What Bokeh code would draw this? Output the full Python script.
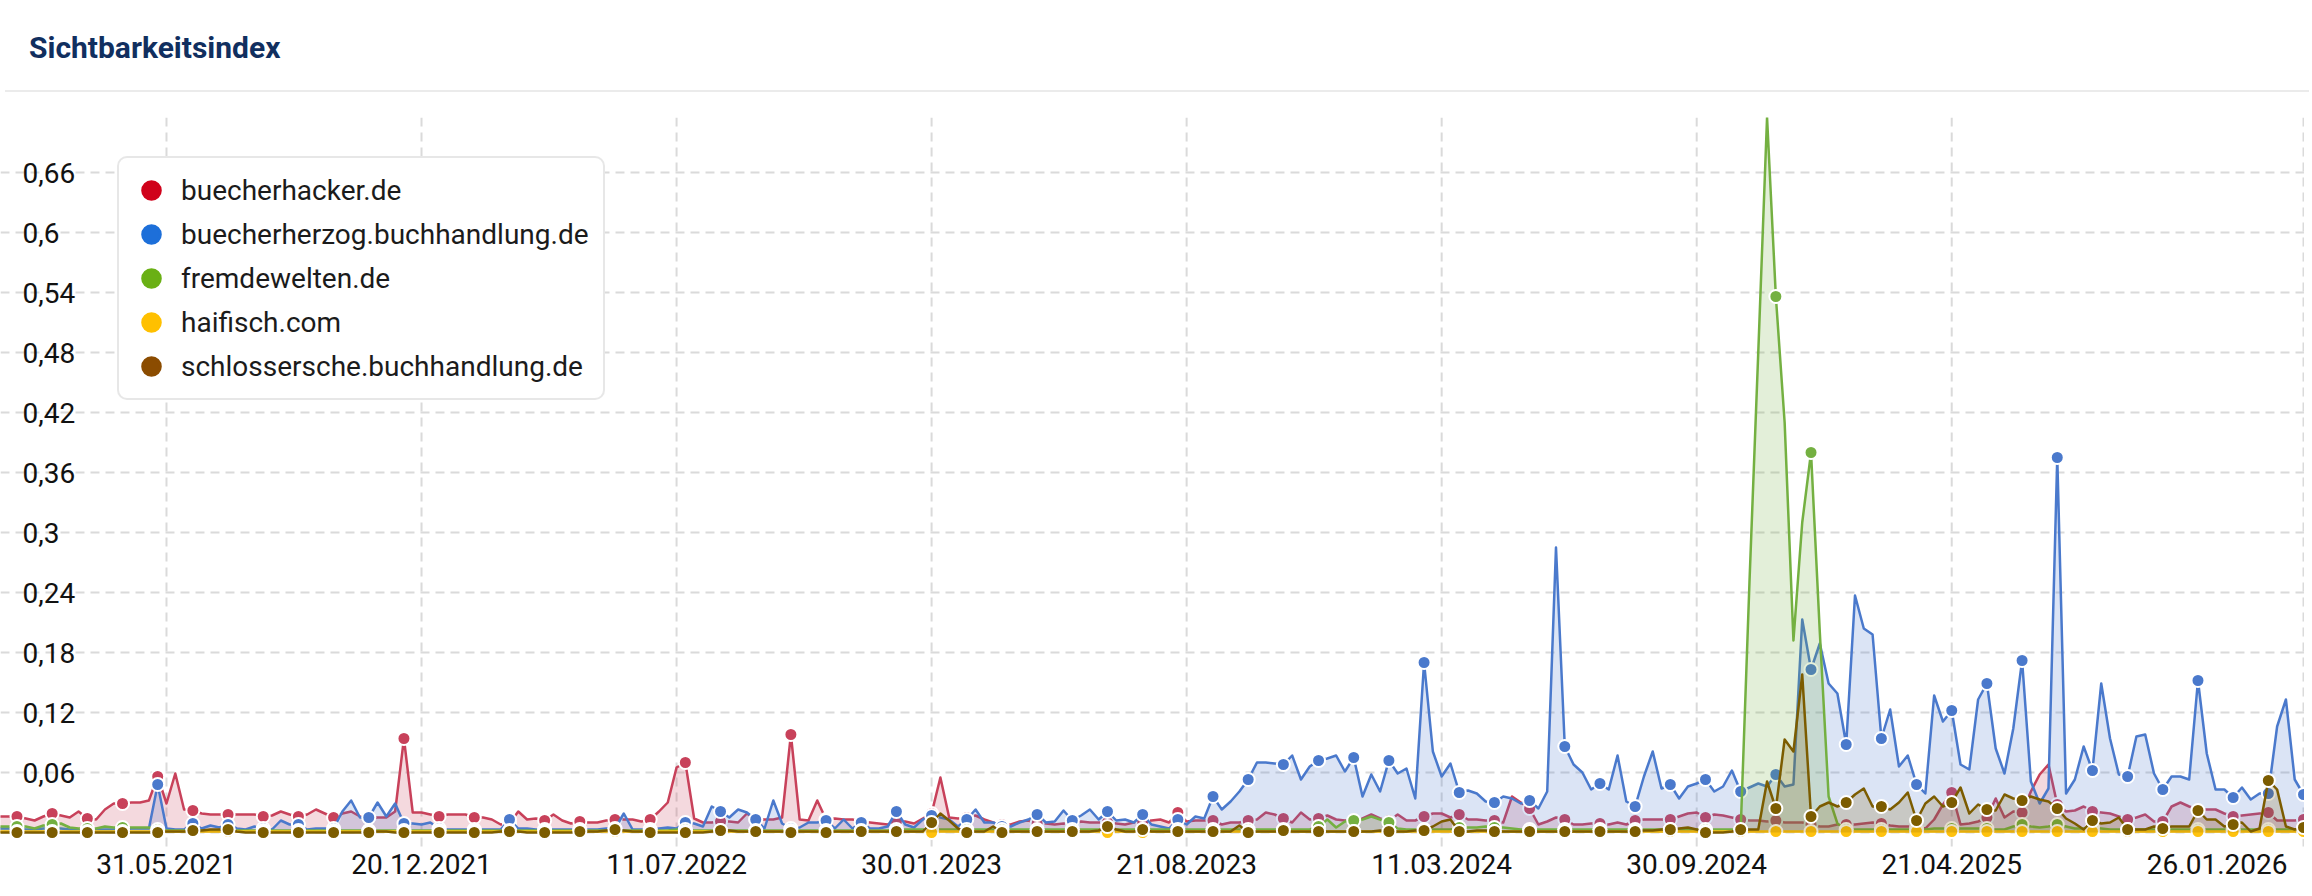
import numpy as np
import pandas as pd
from datetime import datetime
from bokeh.plotting import figure
from bokeh.models import (ColumnDataSource, Range1d, Grid, FixedTicker, LabelSet,
                          Legend, LegendItem, Div)
from bokeh.layouts import column
from bokeh.core.properties import value
from bokeh.embed import file_html
from bokeh.resources import INLINE

title_text = "Sichtbarkeitsindex"
series_names = ["buecherhacker.de", "buecherherzog.buchhandlung.de", "fremdewelten.de",
                "haifisch.com", "schlossersche.buchhandlung.de"]
first_week = "2021-01-18"   # weekly values (Mondays)

buecherhacker = [
    0.016, 0.016, 0.016, 0.014, 0.012, 0.016, 0.019, 0.017, 0.015, 0.021,
    0.014, 0.013, 0.023, 0.029, 0.029, 0.030, 0.030, 0.032, 0.056, 0.029,
    0.059, 0.023, 0.022, 0.019, 0.018, 0.018, 0.018, 0.018, 0.018, 0.018,
    0.016, 0.017, 0.021, 0.018, 0.016, 0.018, 0.023, 0.019, 0.015, 0.019,
    0.021, 0.016, 0.015, 0.015, 0.015, 0.021, 0.094, 0.020, 0.020, 0.018,
    0.016, 0.018, 0.018, 0.018, 0.015, 0.015, 0.013, 0.008, 0.009, 0.021,
    0.013, 0.014, 0.012, 0.018, 0.012, 0.009, 0.011, 0.010, 0.010, 0.012,
    0.013, 0.013, 0.013, 0.011, 0.013, 0.021, 0.030, 0.065, 0.070, 0.014,
    0.010, 0.010, 0.011, 0.011, 0.010, 0.019, 0.013, 0.013, 0.013, 0.015,
    0.098, 0.013, 0.012, 0.032, 0.013, 0.014, 0.013, 0.013, 0.011, 0.010,
    0.009, 0.008, 0.011, 0.011, 0.009, 0.014, 0.019, 0.055, 0.015, 0.014,
    0.015, 0.017, 0.013, 0.010, 0.008, 0.008, 0.011, 0.012, 0.009, 0.009,
    0.008, 0.009, 0.008, 0.011, 0.010, 0.010, 0.010, 0.009, 0.008, 0.010,
    0.011, 0.012, 0.013, 0.010, 0.020, 0.011, 0.012, 0.012, 0.012, 0.008,
    0.010, 0.010, 0.012, 0.013, 0.020, 0.018, 0.014, 0.010, 0.020, 0.013,
    0.014, 0.017, 0.013, 0.012, 0.013, 0.014, 0.018, 0.014, 0.012, 0.018,
    0.012, 0.012, 0.016, 0.019, 0.019, 0.015, 0.018, 0.013, 0.013, 0.012,
    0.012, 0.010, 0.036, 0.030, 0.024, 0.008, 0.011, 0.015, 0.013, 0.008,
    0.008, 0.009, 0.009, 0.008, 0.010, 0.008, 0.012, 0.013, 0.013, 0.013,
    0.013, 0.016, 0.019, 0.020, 0.015, 0.018, 0.017, 0.015, 0.013, 0.012,
    0.012, 0.011, 0.012, 0.010, 0.010, 0.010, 0.008, 0.006, 0.006, 0.008,
    0.008, 0.008, 0.009, 0.010, 0.009, 0.007, 0.006, 0.006, 0.006, 0.004,
    0.013, 0.028, 0.040, 0.008, 0.009, 0.011, 0.015, 0.034, 0.015, 0.021,
    0.020, 0.041, 0.058, 0.068, 0.028, 0.021, 0.022, 0.026, 0.021, 0.020,
    0.019, 0.016, 0.013, 0.015, 0.018, 0.011, 0.011, 0.026, 0.030, 0.026,
    0.023, 0.023, 0.023, 0.019, 0.016, 0.017, 0.018, 0.019, 0.020, 0.012,
    0.012, 0.012, 0.013, 0.012,
]

buecherherzog = [
    0.004, 0.004, 0.004, 0.003, 0.003, 0.004, 0.004, 0.004, 0.003, 0.003,
    0.003, 0.003, 0.003, 0.003, 0.003, 0.004, 0.004, 0.004, 0.048, 0.004,
    0.003, 0.003, 0.009, 0.004, 0.007, 0.005, 0.008, 0.004, 0.003, 0.006,
    0.004, 0.003, 0.012, 0.008, 0.008, 0.003, 0.004, 0.004, 0.004, 0.021,
    0.032, 0.015, 0.015, 0.030, 0.016, 0.029, 0.009, 0.009, 0.008, 0.010,
    0.004, 0.003, 0.003, 0.003, 0.003, 0.003, 0.003, 0.003, 0.013, 0.004,
    0.004, 0.003, 0.003, 0.003, 0.003, 0.003, 0.003, 0.003, 0.003, 0.004,
    0.004, 0.019, 0.003, 0.003, 0.003, 0.004, 0.005, 0.004, 0.010, 0.009,
    0.006, 0.026, 0.021, 0.015, 0.023, 0.020, 0.013, 0.004, 0.032, 0.009,
    0.004, 0.005, 0.010, 0.010, 0.012, 0.004, 0.013, 0.004, 0.010, 0.004,
    0.004, 0.006, 0.021, 0.008, 0.005, 0.013, 0.017, 0.015, 0.013, 0.006,
    0.013, 0.023, 0.010, 0.010, 0.006, 0.006, 0.010, 0.013, 0.018, 0.010,
    0.011, 0.022, 0.012, 0.017, 0.023, 0.013, 0.021, 0.012, 0.013, 0.010,
    0.018, 0.008, 0.006, 0.004, 0.013, 0.008, 0.016, 0.014, 0.036, 0.023,
    0.031, 0.041, 0.053, 0.070, 0.070, 0.069, 0.068, 0.077, 0.053, 0.066,
    0.072, 0.074, 0.077, 0.061, 0.075, 0.036, 0.058, 0.041, 0.072, 0.059,
    0.064, 0.034, 0.170, 0.081, 0.056, 0.069, 0.040, 0.042, 0.039, 0.031,
    0.030, 0.036, 0.034, 0.029, 0.032, 0.024, 0.041, 0.285, 0.086, 0.068,
    0.060, 0.043, 0.049, 0.043, 0.077, 0.031, 0.026, 0.056, 0.081, 0.044,
    0.048, 0.034, 0.046, 0.049, 0.053, 0.041, 0.046, 0.062, 0.041, 0.045,
    0.049, 0.046, 0.058, 0.046, 0.048, 0.213, 0.163, 0.189, 0.149, 0.139,
    0.088, 0.237, 0.204, 0.198, 0.094, 0.123, 0.066, 0.077, 0.048, 0.039,
    0.137, 0.111, 0.122, 0.068, 0.063, 0.133, 0.149, 0.084, 0.059, 0.104,
    0.172, 0.051, 0.029, 0.044, 0.375, 0.039, 0.053, 0.086, 0.062, 0.149,
    0.094, 0.058, 0.056, 0.096, 0.098, 0.059, 0.043, 0.056, 0.056, 0.053,
    0.152, 0.079, 0.043, 0.043, 0.035, 0.045, 0.033, 0.039, 0.039, 0.106,
    0.133, 0.053, 0.038, 0.038,
]

fremdewelten = [
    0.006, 0.006, 0.006, 0.006, 0.004, 0.007, 0.008, 0.009, 0.005, 0.004,
    0.004, 0.004, 0.006, 0.005, 0.005, 0.005, 0.005, 0.005, 0.003, 0.002,
    0.002, 0.002, 0.002, 0.002, 0.002, 0.002, 0.002, 0.002, 0.002, 0.002,
    0.002, 0.002, 0.002, 0.002, 0.002, 0.002, 0.002, 0.002, 0.002, 0.002,
    0.002, 0.002, 0.002, 0.002, 0.002, 0.002, 0.002, 0.002, 0.002, 0.002,
    0.002, 0.002, 0.002, 0.002, 0.002, 0.002, 0.002, 0.002, 0.002, 0.002,
    0.002, 0.002, 0.002, 0.002, 0.002, 0.002, 0.002, 0.002, 0.002, 0.002,
    0.002, 0.002, 0.002, 0.002, 0.002, 0.002, 0.002, 0.003, 0.003, 0.002,
    0.002, 0.002, 0.002, 0.002, 0.002, 0.002, 0.002, 0.002, 0.002, 0.002,
    0.002, 0.002, 0.002, 0.002, 0.002, 0.002, 0.002, 0.002, 0.002, 0.002,
    0.002, 0.002, 0.003, 0.003, 0.003, 0.003, 0.003, 0.003, 0.003, 0.003,
    0.003, 0.003, 0.003, 0.003, 0.003, 0.003, 0.003, 0.003, 0.003, 0.003,
    0.003, 0.003, 0.003, 0.003, 0.003, 0.003, 0.003, 0.003, 0.003, 0.003,
    0.003, 0.003, 0.003, 0.003, 0.003, 0.003, 0.003, 0.003, 0.003, 0.003,
    0.003, 0.003, 0.003, 0.003, 0.003, 0.003, 0.003, 0.003, 0.003, 0.003,
    0.006, 0.013, 0.005, 0.011, 0.012, 0.013, 0.016, 0.013, 0.010, 0.004,
    0.003, 0.003, 0.003, 0.003, 0.003, 0.003, 0.005, 0.005, 0.005, 0.006,
    0.005, 0.005, 0.004, 0.003, 0.003, 0.003, 0.003, 0.003, 0.003, 0.003,
    0.003, 0.003, 0.003, 0.003, 0.003, 0.003, 0.003, 0.003, 0.003, 0.003,
    0.003, 0.003, 0.003, 0.003, 0.003, 0.003, 0.003, 0.003, 0.002, 0.250,
    0.480, 0.715, 0.536, 0.410, 0.192, 0.310, 0.380, 0.200, 0.036, 0.009,
    0.003, 0.003, 0.003, 0.003, 0.003, 0.003, 0.003, 0.003, 0.003, 0.003,
    0.004, 0.004, 0.004, 0.004, 0.004, 0.004, 0.004, 0.003, 0.003, 0.006,
    0.008, 0.006, 0.005, 0.006, 0.008, 0.006, 0.004, 0.004, 0.005, 0.004,
    0.003, 0.003, 0.003, 0.003, 0.003, 0.003, 0.003, 0.003, 0.003, 0.003,
    0.003, 0.003, 0.003, 0.003, 0.003, 0.003, 0.003, 0.003, 0.003, 0.003,
    0.003, 0.003, 0.003, 0.003,
]

haifisch = [
    0.001, 0.001, 0.001, 0.001, 0.001, 0.001, 0.001, 0.001, 0.001, 0.001,
    0.001, 0.001, 0.001, 0.001, 0.001, 0.001, 0.001, 0.001, 0.001, 0.001,
    0.001, 0.001, 0.001, 0.001, 0.001, 0.001, 0.001, 0.001, 0.001, 0.001,
    0.001, 0.001, 0.001, 0.001, 0.001, 0.001, 0.001, 0.001, 0.001, 0.001,
    0.001, 0.001, 0.001, 0.001, 0.001, 0.001, 0.001, 0.001, 0.001, 0.001,
    0.001, 0.001, 0.001, 0.001, 0.001, 0.001, 0.001, 0.001, 0.001, 0.001,
    0.001, 0.001, 0.001, 0.001, 0.001, 0.001, 0.001, 0.001, 0.001, 0.001,
    0.001, 0.001, 0.001, 0.001, 0.001, 0.001, 0.001, 0.001, 0.001, 0.001,
    0.001, 0.001, 0.001, 0.001, 0.001, 0.001, 0.001, 0.001, 0.001, 0.001,
    0.001, 0.001, 0.001, 0.001, 0.001, 0.001, 0.001, 0.001, 0.001, 0.001,
    0.001, 0.001, 0.001, 0.001, 0.001, 0.001, 0.000, 0.001, 0.001, 0.001,
    0.001, 0.001, 0.001, 0.001, 0.001, 0.001, 0.001, 0.001, 0.001, 0.001,
    0.001, 0.001, 0.001, 0.001, 0.001, 0.001, 0.000, 0.001, 0.001, 0.001,
    0.000, 0.001, 0.001, 0.001, 0.001, 0.001, 0.001, 0.001, 0.001, 0.001,
    0.001, 0.001, 0.001, 0.001, 0.001, 0.001, 0.001, 0.001, 0.001, 0.001,
    0.001, 0.001, 0.001, 0.001, 0.001, 0.001, 0.001, 0.001, 0.001, 0.001,
    0.001, 0.001, 0.001, 0.001, 0.001, 0.001, 0.001, 0.001, 0.001, 0.001,
    0.001, 0.001, 0.001, 0.001, 0.001, 0.001, 0.001, 0.001, 0.001, 0.001,
    0.001, 0.001, 0.001, 0.001, 0.001, 0.001, 0.001, 0.001, 0.001, 0.001,
    0.001, 0.001, 0.001, 0.001, 0.001, 0.001, 0.001, 0.001, 0.001, 0.001,
    0.001, 0.001, 0.001, 0.001, 0.001, 0.001, 0.001, 0.001, 0.001, 0.001,
    0.001, 0.001, 0.001, 0.001, 0.001, 0.001, 0.001, 0.001, 0.001, 0.001,
    0.001, 0.001, 0.001, 0.001, 0.001, 0.001, 0.001, 0.001, 0.001, 0.001,
    0.001, 0.001, 0.001, 0.001, 0.001, 0.001, 0.001, 0.001, 0.001, 0.001,
    0.001, 0.001, 0.001, 0.001, 0.001, 0.001, 0.001, 0.001, 0.001, 0.001,
    0.001, 0.001, 0.001, 0.001, 0.001, 0.001, 0.001, 0.001, 0.001, 0.001,
    0.001, 0.001, 0.001, 0.001,
]

schlossersche = [
    0.000, 0.000, 0.000, 0.000, 0.000, 0.000, 0.000, 0.000, 0.000, 0.000,
    0.000, 0.000, 0.000, 0.000, 0.000, 0.000, 0.000, 0.000, 0.000, 0.001,
    0.001, 0.001, 0.002, 0.002, 0.003, 0.003, 0.003, 0.001, 0.000, 0.000,
    0.000, 0.000, 0.000, 0.000, 0.000, 0.000, 0.000, 0.000, 0.000, 0.000,
    0.000, 0.000, 0.000, 0.001, 0.001, 0.000, 0.000, 0.000, 0.000, 0.000,
    0.000, 0.000, 0.000, 0.000, 0.000, 0.000, 0.000, 0.001, 0.001, 0.001,
    0.000, 0.000, 0.000, 0.000, 0.000, 0.000, 0.001, 0.001, 0.001, 0.002,
    0.003, 0.002, 0.001, 0.001, 0.000, 0.000, 0.000, 0.000, 0.000, 0.000,
    0.000, 0.001, 0.002, 0.002, 0.001, 0.001, 0.001, 0.001, 0.001, 0.001,
    0.000, 0.001, 0.001, 0.001, 0.000, 0.001, 0.001, 0.001, 0.001, 0.001,
    0.001, 0.001, 0.001, 0.001, 0.001, 0.001, 0.010, 0.019, 0.012, 0.004,
    0.000, 0.001, 0.001, 0.006, 0.000, 0.001, 0.001, 0.001, 0.001, 0.001,
    0.001, 0.001, 0.001, 0.001, 0.001, 0.002, 0.006, 0.003, 0.001, 0.001,
    0.003, 0.001, 0.001, 0.001, 0.001, 0.001, 0.001, 0.001, 0.001, 0.001,
    0.001, 0.007, 0.000, 0.001, 0.001, 0.001, 0.002, 0.001, 0.001, 0.001,
    0.001, 0.001, 0.001, 0.001, 0.001, 0.001, 0.001, 0.002, 0.001, 0.001,
    0.001, 0.002, 0.002, 0.006, 0.011, 0.013, 0.001, 0.001, 0.002, 0.002,
    0.001, 0.001, 0.001, 0.001, 0.001, 0.001, 0.001, 0.001, 0.001, 0.001,
    0.001, 0.001, 0.001, 0.001, 0.001, 0.001, 0.001, 0.002, 0.002, 0.003,
    0.003, 0.004, 0.005, 0.003, 0.000, 0.000, 0.000, 0.001, 0.003, 0.003,
    0.003, 0.051, 0.024, 0.093, 0.081, 0.158, 0.016, 0.026, 0.030, 0.026,
    0.030, 0.038, 0.044, 0.026, 0.026, 0.023, 0.030, 0.040, 0.012, 0.029,
    0.036, 0.026, 0.030, 0.045, 0.019, 0.028, 0.023, 0.022, 0.038, 0.034,
    0.032, 0.036, 0.033, 0.031, 0.024, 0.014, 0.009, 0.003, 0.012, 0.009,
    0.010, 0.015, 0.003, 0.003, 0.003, 0.006, 0.004, 0.006, 0.006, 0.006,
    0.022, 0.013, 0.013, 0.006, 0.008, 0.010, 0.001, 0.004, 0.052, 0.043,
    0.006, 0.003, 0.005, 0.004,
]

x_tick_labels = ["31.05.2021", "20.12.2021", "11.07.2022", "30.01.2023", "21.08.2023",
                 "11.03.2024", "30.09.2024", "21.04.2025", "26.01.2026"]
y_ticks = [0.06, 0.12, 0.18, 0.24, 0.30, 0.36, 0.42, 0.48, 0.54, 0.60, 0.66]
y_tick_labels = ["0,06", "0,12", "0,18", "0,24", "0,3", "0,36", "0,42", "0,48", "0,54", "0,6", "0,66"]

line_colors = ["#c8415a", "#4a79cc", "#74b041", "#ffc20e", "#7c5c00"]
legend_colors = ["#d0021b", "#1d6fd9", "#6ab015", "#ffc000", "#8b4c00"]

all_series = [buecherhacker, buecherherzog, fremdewelten, haifisch, schlossersche]
ymax = max(max(s) for s in all_series)

W = 2304
FRAME_H = 773            # plot frame incl. space for the date labels
PX_PER_UNIT = 1000.0
ymin = ymax - FRAME_H / PX_PER_UNIT

p = figure(width=W, height=793, x_axis_type="datetime",
           x_axis_location=None, y_axis_location=None,
           x_range=Range1d(datetime(2021, 1, 18, 21), datetime(2026, 1, 26, 19)),
           y_range=Range1d(ymin, ymax),
           output_backend="svg", toolbar_location=None,
           min_border_left=0, min_border_right=0, min_border_top=20, min_border_bottom=0)
p.outline_line_color = None
p.background_fill_color = "white"
p.border_fill_color = "white"
for g in p.grid:
    g.visible = False

tick_dates = pd.to_datetime(x_tick_labels, format="%d.%m.%Y")

grid_kw = dict(line_color="#dadada", line_width=2, line_dash="9 6")
# vertical grid lines at the date ticks (end a little below zero)
vsrc = ColumnDataSource(dict(x=tick_dates))
p.segment(x0="x", y0=-0.014, x1="x", y1=ymax, source=vsrc, **grid_kw)
# horizontal grid lines
yg = Grid(dimension=1, ticker=FixedTicker(ticks=[0.0] + y_ticks), grid_line_color="#dadada",
          grid_line_width=2, grid_line_dash="9 6")
p.add_layout(yg)

for vals, col in zip(all_series, line_colors):
    dates = pd.date_range(first_week, periods=len(vals), freq="7D")
    src = ColumnDataSource(dict(x=dates, y=vals))
    p.varea(x="x", y1=0, y2="y", source=src, fill_color=col, fill_alpha=0.2)
    p.line("x", "y", source=src, line_color=col, line_width=2.5, line_join="round")
    idx = [k for k in range(len(vals)) if k % 4 == 2]
    msrc = ColumnDataSource(dict(x=dates[idx], y=[vals[k] for k in idx]))
    p.scatter("x", "y", source=msrc, size=13, fill_color=col, line_color="white", line_width=2)

# legend
items = []
for name, lc in zip(series_names, legend_colors):
    r = p.scatter(x=[np.nan], y=[np.nan], size=20, fill_color=lc, line_color=lc, line_width=3)
    items.append(LegendItem(label=name, renderers=[r]))
legend = Legend(items=items, location=(117, 490), orientation="vertical",
                label_text_font="Roboto", label_text_font_size="28px", label_text_color="#1b1b1b",
                glyph_height=44, glyph_width=44, spacing=0, padding=10, margin=0,
                label_standoff=8, label_height=44, label_width=412,
                border_line_color="#cfcfcf", border_line_width=2,
                background_fill_color="white", background_fill_alpha=1.0)
try:
    legend.border_radius = 10
except Exception:
    pass
p.add_layout(legend, "center")

# y tick labels (left aligned, inside plot)
ysrc = ColumnDataSource(dict(y=y_ticks, text=y_tick_labels))
p.add_layout(LabelSet(x=22, y="y", x_units="screen", text="text", source=ysrc,
                      text_align="left", text_baseline="middle",
                      text_font=value("Roboto"), text_font_size="28px", text_color="#111111"))

# x tick labels
xsrc = ColumnDataSource(dict(x=tick_dates[:-1], text=x_tick_labels[:-1]))
p.add_layout(LabelSet(x="x", y=-0.031, text="text", source=xsrc,
                      text_align="center", text_baseline="middle",
                      text_font=value("Roboto"), text_font_size="28px", text_color="#111111"))
xsrc2 = ColumnDataSource(dict(x=tick_dates[-1:], text=x_tick_labels[-1:]))
p.add_layout(LabelSet(x="x", y=-0.031, text="text", source=xsrc2, x_offset=-16,
                      text_align="right", text_baseline="middle",
                      text_font=value("Roboto"), text_font_size="28px", text_color="#111111"))

title_div = Div(text=('<div style="box-sizing:border-box;width:%dpx;height:87px;'
                      'border-bottom:2px solid #ebebeb;padding:22px 0 0 24px;'
                      'font-family:Roboto;font-weight:700;font-size:30px;color:#112f5f;">%s</div>')
                % (W, title_text), width=W, height=87)

layout = column(title_div, p)
open("out.html", "w").write(file_html(layout, INLINE))
